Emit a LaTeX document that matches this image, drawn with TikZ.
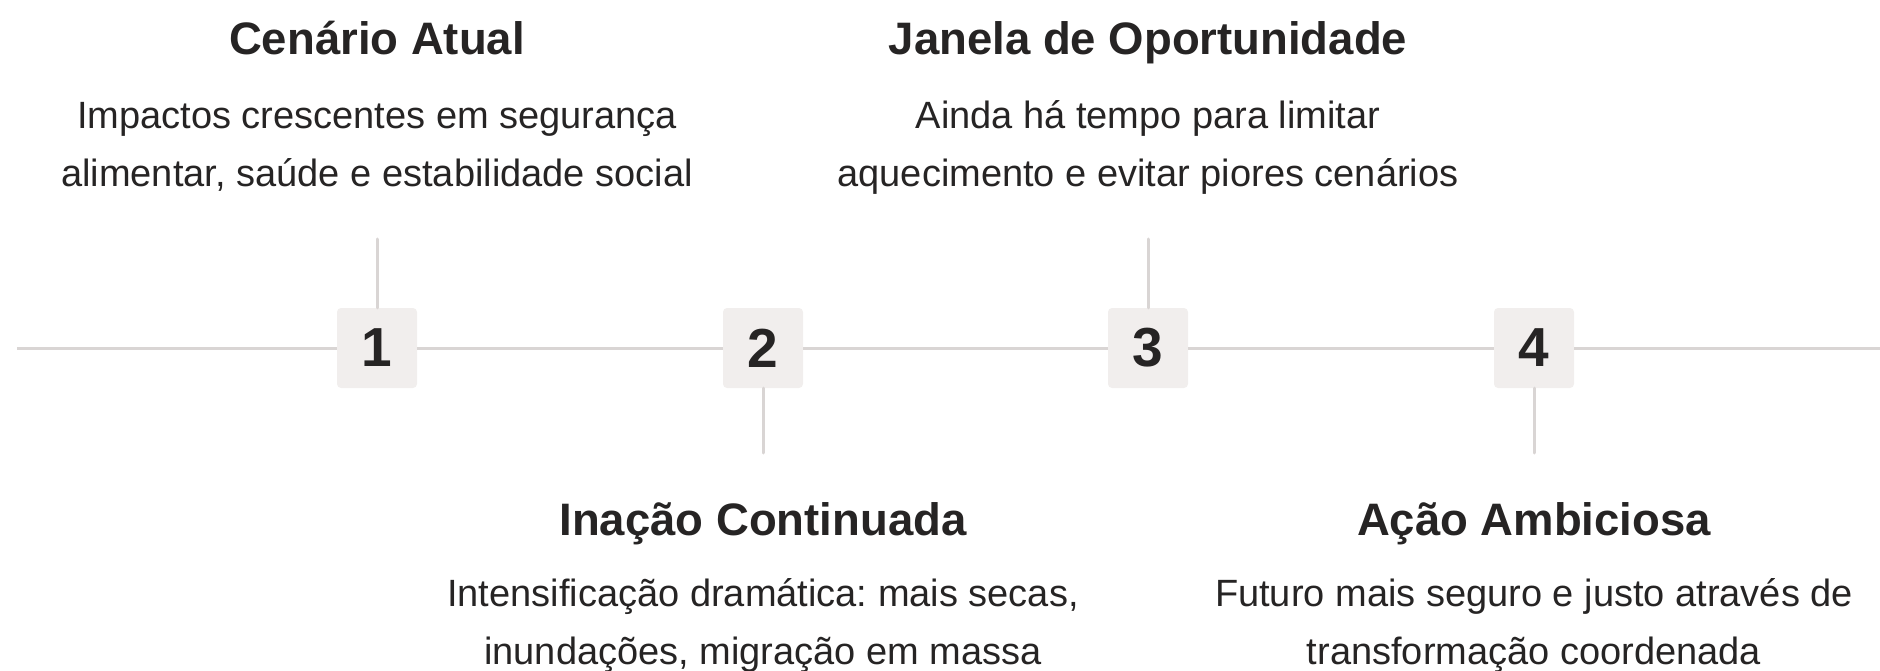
\documentclass[tikz,border=0pt]{standalone}
\usepackage{fontspec}
\setmainfont{Liberation Sans}
\usepackage{tikz}
\usetikzlibrary{positioning}
\definecolor{linegray}{HTML}{D9D5D4}
\definecolor{boxgray}{HTML}{F1EEED}
\definecolor{inkdark}{HTML}{262424}
\frenchspacing

\begin{document}
\begin{tikzpicture}[x=1pt,y=1pt,
    numbox/.style={fill=boxgray,rounded corners=4pt,minimum width=80pt,minimum height=80pt,inner sep=0pt,text=inkdark,font=\fontsize{55}{58}\selectfont\bfseries},
    ttl/.style={text=inkdark,inner sep=0pt,anchor=base,font=\fontsize{45.5}{50}\selectfont\bfseries},
    desc/.style={text=inkdark,inner sep=0pt,align=center,font=\fontsize{38}{58}\selectfont},
    conn/.style={draw=linegray,line width=3pt,line cap=round}]
        \useasboundingbox (0,0) rectangle (1880,-671);
        % timeline
        \coordinate (lstart) at (17,-348);
        \coordinate (lend) at (1880,-348);
        \node[numbox] (n1) at (377,-348) {1};
        \node[numbox] (n2) at (763,-348) {2};
        \node[numbox] (n3) at (1148,-348) {3};
        \node[numbox] (n4) at (1534,-348) {4};
        \draw[conn,line cap=butt] (lstart)--(n1.west) (n1.east)--(n2.west) (n2.east)--(n3.west) (n3.east)--(n4.west) (n4.east)--(lend);
        % ticks
        \coordinate (u1) at (377,-239);
        \coordinate (u2) at (763,-453);
        \coordinate (u3) at (1148,-239);
        \coordinate (u4) at (1534,-453);
        \draw[conn] (n1.north)--(u1);
        \draw[conn] (n2.south)--(u2);
        \draw[conn] (n3.north)--(u3);
        \draw[conn] (n4.south)--(u4);
        % texts above
        \node[ttl] (t1) at (377,-55) {Cenário Atual};
        \node[desc] (d1) at (377,-147) {Impactos crescentes em segurança\\alimentar, saúde e estabilidade social};
        \node[ttl] (t3) at (1148,-55) {Janela de Oportunidade};
        \node[desc] (d3) at (1148,-147) {Ainda há tempo para limitar\\aquecimento e evitar piores cenários};
        % texts below
        \node[ttl] (t2) at (763,-535) {Inação Continuada};
        \node[desc] (d2) at (763,-626) {Intensificação dramática: mais secas,\\inundações, migração em massa};
        \node[ttl] (t4) at (1534,-535) {Ação Ambiciosa};
        \node[desc] (d4) at (1534,-626) {Futuro mais seguro e justo através de\\transformação coordenada};
    \end{tikzpicture}
\end{document}
